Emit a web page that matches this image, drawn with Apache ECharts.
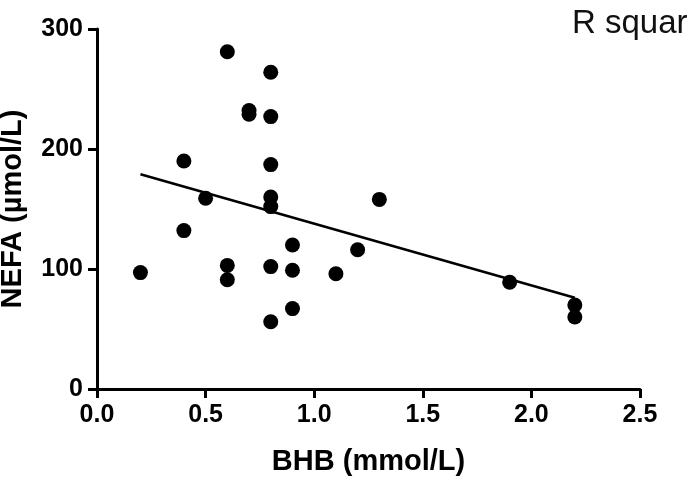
<!DOCTYPE html>
<html>
<head>
<meta charset="utf-8">
<script src="https://cdn.jsdelivr.net/npm/echarts@6/dist/echarts.min.js"></script>
<style>
  html, body { margin: 0; padding: 0; background: #fff; }
  #main { width: 690px; height: 482px; }
</style>
</head>
<body>
<div id="main"></div>
<script>
var dom = document.getElementById("main");
var myChart = echarts.init(dom);

// BHB (mmol/L) vs NEFA (umol/L), one entry per animal
var bhb  = [0.2, 0.4, 0.4, 0.5, 0.6, 0.6, 0.6, 0.7, 0.7, 0.8, 0.8, 0.8, 0.8, 0.8, 0.8, 0.8, 0.9, 0.9, 0.9, 1.1, 1.2, 1.3, 1.9, 2.2, 2.2];
var nefa = [97, 190, 132, 159, 281, 103, 91, 232, 229, 264, 227, 187, 160, 152, 102, 56, 120, 99, 67, 96, 116, 158, 89, 70, 60];

// ends of the fitted line
var fitX = [0.2, 2.2];
var fitY = [179, 76];

var xTicks = [0, 0.5, 1.0, 1.5, 2.0, 2.5];
var yTicks = [0, 100, 200, 300];

var font = 'Liberation Sans';

option = {
    backgroundColor: '#fff',
    animation: false,
    grid: {
        left: 97,
        right: 50,
        top: 29,
        bottom: 93,
        containLabel: false,
        outerBoundsMode: 'none'
    },
    xAxis: {
        type: 'value',
        min: xTicks[0],
        max: xTicks[xTicks.length - 1],
        interval: 0.5,
        name: 'BHB (mmol/L)',
        nameLocation: 'middle',
        nameGap: 58,
        nameTextStyle: { color: '#000', fontFamily: font, fontWeight: 'bold', fontSize: 29 },
        splitLine: { show: false },
        axisLine: { lineStyle: { color: '#000', width: 3 } },
        axisTick: { length: 9, lineStyle: { color: '#000', width: 3 } },
        axisLabel: {
            margin: 14,
            color: '#000',
            fontFamily: font,
            fontWeight: 'bold',
            fontSize: 25,
            formatter: function (v) { return v.toFixed(1); }
        }
    },
    yAxis: {
        type: 'value',
        min: yTicks[0],
        max: yTicks[yTicks.length - 1],
        interval: 100,
        name: 'NEFA (µmol/L)',
        nameLocation: 'middle',
        nameGap: 70,
        nameTextStyle: { color: '#000', fontFamily: font, fontWeight: 'bold', fontSize: 29 },
        splitLine: { show: false },
        axisLine: { show: true, lineStyle: { color: '#000', width: 3 } },
        axisTick: { show: true, length: 9, lineStyle: { color: '#000', width: 3 } },
        axisLabel: {
            margin: 14,
            color: '#000',
            fontFamily: font,
            fontWeight: 'bold',
            fontSize: 25
        }
    },
    graphic: [{
        type: 'text',
        left: 572,
        top: 7,
        style: {
            text: 'R squar',
            font: '33px "Liberation Sans"',
            fill: '#111'
        }
    }],
    series: [{
        type: 'line',
        data: fitX.map(function (x, i) { return [x, fitY[i]]; }),
        symbol: 'none',
        lineStyle: { color: '#000', width: 2.5 },
        z: 1
    }, {
        type: 'scatter',
        data: bhb.map(function (x, i) { return [x, nefa[i]]; }),
        symbol: 'circle',
        symbolSize: 15,
        itemStyle: { color: '#000', opacity: 1 },
        z: 2
    }]
};

if (option && typeof option === "object") {
    myChart.setOption(option, true);
}
</script>
</body>
</html>
